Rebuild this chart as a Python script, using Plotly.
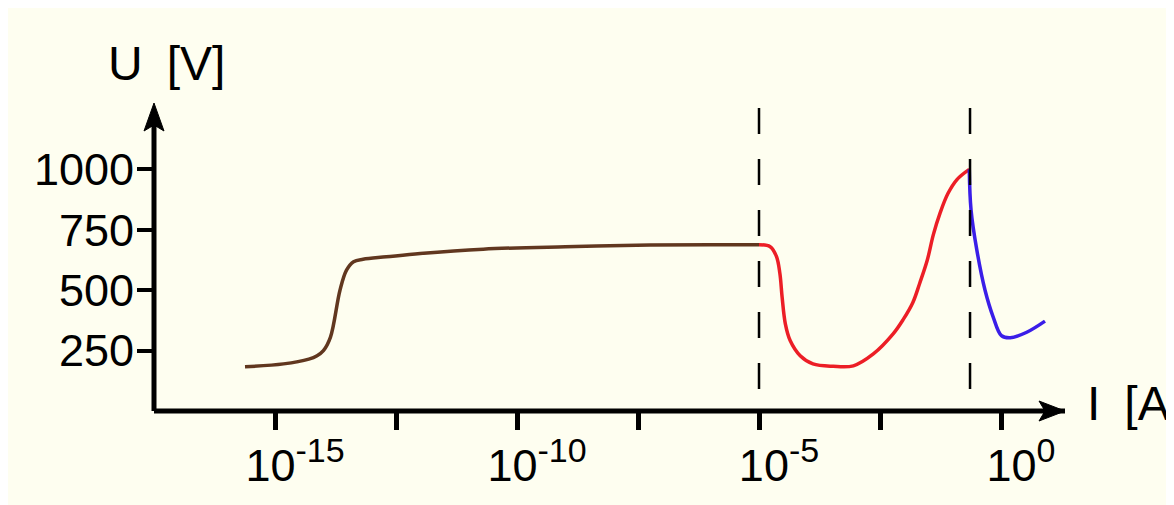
import plotly.graph_objects as go

# ---- data ----
brown_I = [2.4e-16, 1.5e-15, 5.0e-15, 7.4e-15, 1.0e-14, 1.4e-14, 2.2e-14, 3.0e-14, 4.2e-14, 6.6e-14,
           2.0e-13, 1.0e-12, 2.0e-11, 1.0e-9, 5.6e-8, 1.0e-6, 1.0e-5]
brown_U = [183, 195, 215, 229, 250, 306, 500, 583, 618, 628,
           638, 652, 670, 680, 687, 688, 688]

red_I = [1.0e-5, 1.7e-5, 2.3e-5, 2.7e-5, 3.0e-5, 3.5e-5, 4.4e-5, 7.1e-5, 1.3e-4, 3.4e-4,
         8.9e-4, 2.3e-3, 5.9e-3, 9.5e-3, 1.5e-2, 2.1e-2, 3.0e-2, 4.0e-2,
         5.5e-2, 8.0e-2, 0.123, 0.221]
red_U = [688, 680, 639, 569, 472, 361, 292, 229, 195, 185,
         187, 236, 319, 378, 448, 530, 625, 730,
         819, 900, 958, 1000]

blue_I = [0.221, 0.24, 0.316, 0.468, 0.69, 1.02, 1.55, 3.4, 8.1]
blue_U = [1000, 833, 667, 500, 389, 312, 303, 326, 372]

marker_I = [1.0e-5, 0.229]
marker_U = [87, 1254]

tick_vals = [1e-15, 10**-12.5, 1e-10, 10**-7.5, 1e-5, 10**-2.5, 1e0]
SUP = "<sup><span style='font-size:34px'>%s</span></sup>"
tick_text = ["10" + SUP % "-15", "", "10" + SUP % "-10", "", "10" + SUP % "-5", "", "10" + SUP % "0"]
y_ticks = [250, 500, 750, 1000]

BG = "#FEFEF0"
FONT = "Liberation Sans"

fig = go.Figure()

fig.add_trace(go.Scatter(x=brown_I, y=brown_U, mode="lines",
                         line=dict(color="#61371F", width=3.5, shape="spline", smoothing=1.0)))
fig.add_trace(go.Scatter(x=red_I, y=red_U, mode="lines",
                         line=dict(color="#EC1E26", width=3.5, shape="spline", smoothing=1.0)))
fig.add_trace(go.Scatter(x=blue_I, y=blue_U, mode="lines",
                         line=dict(color="#3A1EE8", width=3.5, shape="spline", smoothing=1.0)))
for xi in marker_I:
    fig.add_trace(go.Scatter(x=[xi, xi], y=[marker_U[1], marker_U[0]], mode="lines",
                             line=dict(color="black", width=2.5, dash="26px,25px")))

shapes = [
    # axes lines
    dict(type="line", xref="paper", yref="paper", x0=0, x1=1, y0=0, y1=0,
         line=dict(color="black", width=5)),
    dict(type="line", xref="paper", yref="paper", x0=0, x1=0, y0=0, y1=0.95,
         line=dict(color="black", width=5)),
    # arrow heads
    dict(type="path", xref="paper", yref="paper", xsizemode="pixel", ysizemode="pixel",
         xanchor=1, yanchor=0, path="M 0 0 L -26 10 L -20 0 L -26 -10 Z",
         fillcolor="black", line=dict(color="black", width=1)),
    dict(type="path", xref="paper", yref="paper", xsizemode="pixel", ysizemode="pixel",
         xanchor=0, yanchor=1, path="M 0 1 L -10 -27 L 0 -21 L 10 -27 Z",
         fillcolor="black", line=dict(color="black", width=1)),
]

fig.update_layout(
    width=1174, height=505,
    margin=dict(l=146, r=117, t=96, b=102, autoexpand=False),
    paper_bgcolor=BG, plot_bgcolor=BG,
    showlegend=False,
    shapes=shapes,
    font=dict(family=FONT, color="black", size=45),
    xaxis=dict(type="log", range=[-17.5, 1.322], showgrid=False, zeroline=False, showline=False,
               tickmode="array", tickvals=tick_vals, ticktext=tick_text,
               ticks="outside", ticklen=18, tickwidth=5, tickcolor="black",
               ticklabelshift=20, ticklabelstandoff=-3,
               tickfont=dict(family=FONT, size=45, color="black")),
    yaxis=dict(range=[0, 1270.7], showgrid=False, zeroline=False, showline=False,
               tickmode="array", tickvals=y_ticks,
               ticks="outside", ticklen=16, tickwidth=4, tickcolor="black",
               ticklabelstandoff=-6,
               tickfont=dict(family=FONT, size=45, color="black")),
    annotations=[
        dict(text="U\u2002[V]", xref="paper", yref="paper", x=0, y=1, xanchor="left",
             yanchor="bottom", xshift=-48, yshift=12, showarrow=False,
             font=dict(family=FONT, size=48, color="black")),
        dict(text="I\u2002[A]", xref="paper", yref="paper", x=1, y=0, xanchor="left",
             yanchor="middle", xshift=20, yshift=8, showarrow=False,
             font=dict(family=FONT, size=48, color="black")),
    ],
)

fig.write_html("out.html")
